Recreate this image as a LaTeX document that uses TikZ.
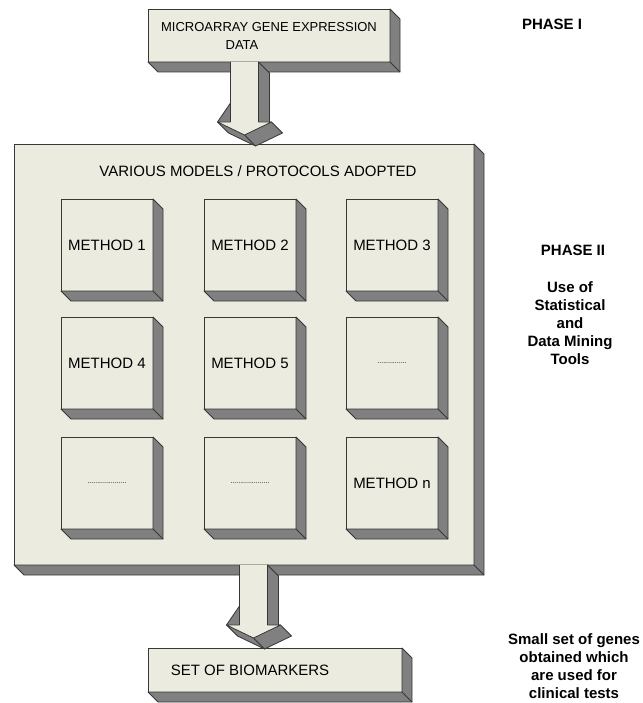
\documentclass[tikz,border=0pt]{standalone}
\usepackage{fontspec}
\setmainfont{Liberation Sans}
\usepackage{tikz}
\usetikzlibrary{positioning}

\definecolor{facefill}{RGB}{236,235,223}
\definecolor{sidefill}{RGB}{128,128,128}
\definecolor{edgeline}{RGB}{55,55,55}

% grey side faces of a raised box (right and bottom)
\newcommand{\extrude}[1]{
    \filldraw[side] (#1.north east) -- ([shift={(10,10)}]#1.north east)
        -- ([shift={(10,10)}]#1.south east) -- ([shift={(10,10)}]#1.south west)
        -- (#1.south west) -- (#1.south east) -- cycle;
    \draw[side] (#1.south east) -- ([shift={(10,10)}]#1.south east);
}

% raised block arrow: #1 = middle of the shaft's upper end, #2 = tip
\newcommand{\blockarrow}[2]{
    \filldraw[side] ([xshift=14]#1) -- ([shift={(25,11)}]#1) -- ([shift={(25,-13)}]#2)
        -- ([shift={(27,-13)}]#2) -- ([shift={(38,-2)}]#2) -- ([shift={(11,11)}]#2)
        -- ([shift={(-16,-2)}]#2) -- ([shift={(-27,-13)}]#2) -- cycle;
    \draw[side] (#2) -- ([shift={(11,11)}]#2);
    \fill[facefill] ([xshift=-14]#1) -- ([shift={(-14,-13)}]#2) -- ([shift={(-27,-13)}]#2)
        -- (#2) -- ([shift={(27,-13)}]#2) -- ([shift={(14,-13)}]#2) -- ([xshift=14]#1) -- cycle;
    \draw[draw=edgeline, line width=0.8pt, line join=round] ([xshift=-14]#1) -- ([shift={(-14,-13)}]#2)
        -- ([shift={(-27,-13)}]#2) -- (#2) -- ([shift={(27,-13)}]#2)
        -- ([shift={(14,-13)}]#2) -- ([xshift=14]#1);
}

\begin{document}
\begin{tikzpicture}[
    x=1pt, y=-1pt,
    font=\fontsize{15}{18}\selectfont,
    face/.style={draw=edgeline, fill=facefill, line width=0.8pt,
                 outer sep=0pt, inner sep=0pt, align=center,
                 font=\fontsize{15}{18}\selectfont},
    method/.style={face, minimum width=92pt, minimum height=92pt},
    side/.style={draw=edgeline, fill=sidefill, line width=0.8pt, line join=round},
    phase/.style={align=center, font=\fontsize{15}{18}\selectfont\bfseries},
    blank/.style={font=\fontsize{7}{8}\selectfont}]

    \fill[white] (0,0) rectangle (642,703);
    \useasboundingbox (0,0) rectangle (642,703);

    % phase I
    \node[face, minimum width=242pt, minimum height=53pt, font=\fontsize{13}{18}\selectfont]
        (expr) at (269,35.5) {MICROARRAY GENE EXPRESSION\\DATA\hspace*{54pt}};
    \extrude{expr}

    % phase II
    \node[face, minimum width=460pt, minimum height=421pt] (models) at (244,354.5) {};
    \extrude{models}
    \node (title) at (258,171) {VARIOUS MODELS / PROTOCOLS ADOPTED};

    \node[method] (m1) at (107,245) {METHOD 1};
    \node[method, right=51pt of m1] (m2) {METHOD 2};
    \node[method, right=50pt of m2] (m3) {METHOD 3};
    \node[method, below=26pt of m1] (m4) {METHOD 4};
    \node[method, right=51pt of m4] (m5) {METHOD 5};
    \node[method, right=50pt of m5] (m6) {{\fontsize{7}{8}\selectfont...............}};
    \node[method, below=28pt of m4] (m7) {{\fontsize{7}{8}\selectfont....................}};
    \node[method, right=51pt of m7] (m8) {{\fontsize{7}{8}\selectfont....................}};
    \node[method, right=50pt of m8] (m9) {METHOD n};
    \extrude{m1} \extrude{m2} \extrude{m3}
    \extrude{m4} \extrude{m5} \extrude{m6}
    \extrude{m7} \extrude{m8} \extrude{m9}

    % phase III
    \node[face, minimum width=254pt, minimum height=44pt] (bio) at (275,670)
        {SET OF BIOMARKERS\hspace*{50pt}};
    \extrude{bio}

    % arrows between the phases
    \coordinate (in1) at ([xshift=-24.5pt]expr.south);
    \path (in1 |- models.north) ++(0,-9) coordinate (tip1);
    \coordinate (in2) at ([xshift=9.5pt]models.south);
    \path (in2 |- bio.north) ++(0,-10) coordinate (tip2);
    \blockarrow{in1}{tip1}
    \blockarrow{in2}{tip2}

    % notes on the right
    \node[phase] (ph1) at (552,24) {PHASE I};
    \node[phase] (ph2) at (573,250) {PHASE II};
    \node[phase] (tools) at (570,323.5) {Use of\\Statistical\\and\\Data Mining\\Tools};
    \node[phase] (genes) at (574,666) {Small set of genes\\obtained which\\are used for\\clinical tests};

\end{tikzpicture}
\end{document}
